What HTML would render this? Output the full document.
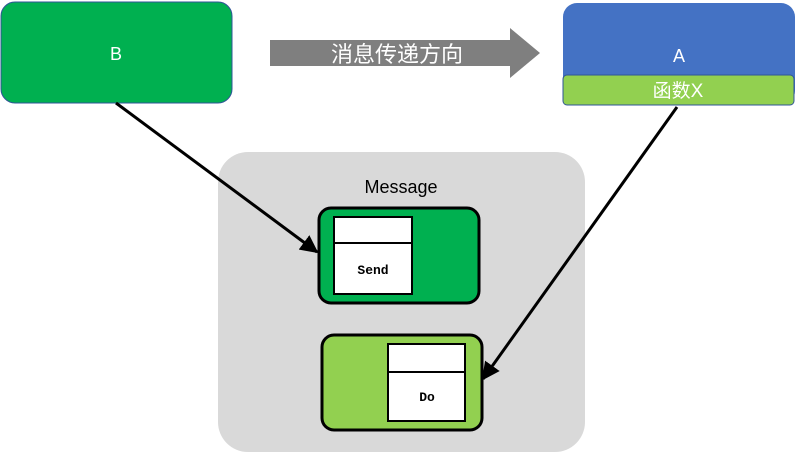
<!DOCTYPE html>
<html><head><meta charset="utf-8"><style>
body{margin:0;width:796px;height:459px;background:#fff;overflow:hidden;font-family:"Liberation Sans","Noto Sans CJK SC",sans-serif}
</style></head><body>
<svg width="796" height="459" xmlns="http://www.w3.org/2000/svg">
<defs>
<marker id="ah2" viewBox="0 0 10 10" markerWidth="18" markerHeight="18" refX="9" refY="5" orient="auto" markerUnits="userSpaceOnUse"><path d="M0,0 L10,5 L0,10 z" fill="#000"/></marker></defs>
<rect x="1" y="2" width="231" height="101" rx="14" fill="#00b050" stroke="#2f5597" stroke-width="1"/>
<text x="116" y="60" fill="#fff" font-size="18" text-anchor="middle">B</text>
<path d="M270,40 H510 V28 L540,53 L510,78 V66 H270 Z" fill="#7f7f7f"/>
<text x="397" y="62" fill="#fff" font-size="22" text-anchor="middle">消息传递方向</text>
<rect x="563" y="3" width="232" height="102" rx="14" fill="#4472c4"/>
<text x="679" y="62" fill="#fff" font-size="18" text-anchor="middle">A</text>
<rect x="563" y="75" width="231" height="30" rx="4" fill="#92d050" stroke="#2f5597" stroke-width="1"/>
<text x="678" y="97" fill="#fff" font-size="19" text-anchor="middle">函数X</text>
<rect x="218" y="152" width="367" height="300" rx="30" fill="#d9d9d9"/>
<text x="401" y="193" fill="#000" font-size="18" text-anchor="middle">Message</text>
<rect x="319" y="208" width="160" height="95" rx="12" fill="#00b050" stroke="#000" stroke-width="3"/>
<rect x="334" y="217" width="78" height="77" fill="#fff" stroke="#000" stroke-width="2"/>
<line x1="334" y1="243" x2="412" y2="243" stroke="#000" stroke-width="2"/>
<text x="373" y="274" font-size="13" font-weight="bold" text-anchor="middle" font-family="Liberation Mono,monospace">Send</text>
<rect x="322" y="335" width="160" height="95" rx="12" fill="#92d050" stroke="#000" stroke-width="3"/>
<rect x="388" y="344" width="77" height="77" fill="#fff" stroke="#000" stroke-width="2"/>
<line x1="388" y1="372" x2="465" y2="372" stroke="#000" stroke-width="2"/>
<text x="427" y="401" font-size="13" font-weight="bold" text-anchor="middle" font-family="Liberation Mono,monospace">Do</text>
<line x1="116" y1="103" x2="317" y2="252" stroke="#000" stroke-width="3" marker-end="url(#ah2)"/>
<line x1="677" y1="107" x2="483" y2="379" stroke="#000" stroke-width="3" marker-end="url(#ah2)"/>
</svg>
</body></html>
